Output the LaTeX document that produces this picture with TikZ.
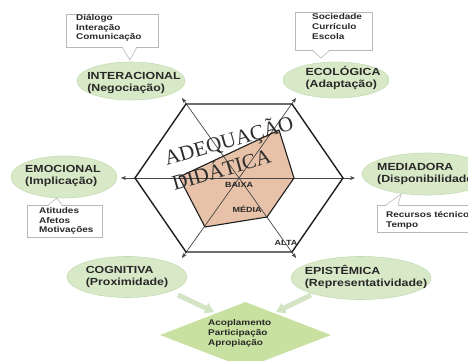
\documentclass[tikz,border=0pt]{standalone}
\usepackage{fontspec}
\setmainfont{Liberation Sans}
\newfontfamily\lab[FakeStretch=1.2]{Liberation Sans}
\newfontfamily\titlefont{Liberation Serif}
\usetikzlibrary{arrows.meta,shapes.geometric}
\definecolor{ellF}{RGB}{216,233,199}
\definecolor{ellB}{RGB}{196,220,180}
\definecolor{diaF}{RGB}{200,225,160}
\definecolor{pentF}{RGB}{232,194,168}
\definecolor{txt}{RGB}{40,40,40}
\definecolor{ttlC}{RGB}{45,45,45}
\definecolor{cB}{RGB}{185,185,185}
\definecolor{axC}{RGB}{70,70,70}
\definecolor{hexC}{RGB}{30,30,30}
\definecolor{barrow}{RGB}{210,228,196}
\begin{document}
\begin{tikzpicture}[x=1pt,y=-1pt,
  ell/.style={ellipse, draw=ellB, fill=ellF, line width=0.6pt, inner sep=0pt},
  etext/.style={font=\lab\bfseries\fontsize{10.3}{12}\selectfont, text=txt, align=left, inner sep=0pt},
  ctext/.style={font=\lab\bfseries\fontsize{8.3}{9.8}\selectfont, text=txt, align=left, inner sep=0pt, anchor=north west},
  cbox/.style={rectangle, draw=cB, fill=white, line width=0.6pt, inner sep=0pt},
  axisline/.style={draw=axC, line width=0.7pt, -{Stealth[length=5pt,width=4pt]}},
  hexline/.style={draw=hexC, line width=1.4pt, line join=miter},
  lvl/.style={font=\lab\bfseries\fontsize{7.5}{9}\selectfont, text=txt, inner sep=0pt},
  ttl/.style={font=\titlefont\fontsize{21}{24}\selectfont, text=ttlC, inner sep=0pt, rotate=16},
  blockarrow/.style={draw=barrow, line width=5pt, -{Triangle[width=11pt,length=9pt]}}
]
\useasboundingbox (0,0) rectangle (468,361);

% center and hexagon vertices
\coordinate (O) at (239,178);
\coordinate (vTL) at (186,104);
\coordinate (vTR) at (292,104);
\coordinate (vR) at (343,178);
\coordinate (vBR) at (292,252);
\coordinate (vBL) at (186,252);
\coordinate (vL) at (135,178);
% arrow ends
\coordinate (aTL) at (182,98);
\coordinate (aTR) at (296,98);
\coordinate (aR) at (355,178);
\coordinate (aBR) at (296,258);
\coordinate (aBL) at (182,258);
\coordinate (aL) at (121,178);
% pentagon
\coordinate (p1) at (179,177);
\coordinate (p2) at (279,130);
\coordinate (p3) at (294,178);
\coordinate (p4) at (267,217);
\coordinate (p5) at (205,227);

\fill[pentF] (p1) -- (p2) -- (p3) -- (p4) -- (p5) -- cycle;

% axes
\draw[axisline] (O) -- (aTL);
\draw[axisline] (O) -- (aTR);
\draw[axisline] (O) -- (aR);
\draw[axisline] (O) -- (aBR);
\draw[axisline] (O) -- (aBL);
\draw[axisline] (O) -- (aL);

\draw[hexline] (vTL) -- (vTR) -- (vR) -- (vBR) -- (vBL) -- (vL) -- cycle;
\draw[hexC, line width=1.1pt, line join=round] (p1) -- (p2) -- (p3) -- (p4) -- (p5) -- cycle;

\node[ttl] (t1) at (229,141) {ADEQUAÇÃO};
\node[ttl] (t2) at (221,168) {DIDÁTICA};

\node[lvl] (baixa) at (239,185) {BAIXA};
\node[lvl] (media) at (247,209) {MÉDIA};
\node[lvl] (alta) at (286,243) {ALTA};

% ellipses
\node[ell, minimum width=108pt, minimum height=38pt] (inter) at (131,81) {};
\node[etext] (interT) at (134,83) {INTERACIONAL\\(Negociação)};
\node[ell, minimum width=106pt, minimum height=36pt] (eco) at (336,80) {};
\node[etext] (ecoT) at (343,78) {ECOLÓGICA\\(Adaptação)};
\node[ell, minimum width=106pt, minimum height=42pt] (emo) at (64,177) {};
\node[etext] (emoT) at (63,176) {EMOCIONAL\\(Implicação)};
\node[ell, minimum width=130pt, minimum height=42pt] (med) at (427,174) {};
\node[etext, anchor=west] (medT) at (377,174) {MEDIADORA\\(Disponibilidade)};
\node[ell, minimum width=120pt, minimum height=41pt] (cog) at (127,277) {};
\node[etext] (cogT) at (127,277) {COGNITIVA\\(Proximidade)};
\node[ell, minimum width=140pt, minimum height=43pt] (epi) at (361,278) {};
\node[etext] (epiT) at (366,277) {EPISTÊMICA\\(Representatividade)};

% callouts
\node[cbox, minimum width=92pt, minimum height=33pt] (c1) at (112,30.5) {};
\fill[white] (122,46) -- (130,60) -- (137,46) -- cycle;
\draw[cB, line width=0.6pt] (122,47) -- (130,60) -- (137,47);
\node[ctext] (c1T) at (76,14) {Diálogo\\Interação\\Comunicação};

\node[cbox, minimum width=77pt, minimum height=38pt] (c2) at (333.5,31) {};
\fill[white] (312,49) -- (321,58) -- (330,49) -- cycle;
\draw[cB, line width=0.6pt] (312,50) -- (321,58) -- (330,50);
\node[ctext] (c2T) at (312,13.5) {Sociedade\\Currículo\\Escola};

\node[cbox, minimum width=75pt, minimum height=32pt] (c3) at (64.5,221) {};
\fill[white] (48,206) -- (57,198) -- (62,206) -- cycle;
\draw[cB, line width=0.6pt] (48,205) -- (57,198) -- (62,205);
\node[ctext] (c3T) at (39,207) {Atitudes\\Afetos\\Motivações};

\node[cbox, minimum width=108pt, minimum height=27pt] (c4) at (431,218.5) {};
\fill[white] (386,206) -- (401,194) -- (398,206) -- cycle;
\draw[cB, line width=0.6pt] (386,205) -- (401,194) -- (398,205);
\node[ctext] (c4T) at (386,211) {Recursos técnicos\\Tempo};

% diamond
\node[diamond, fill=diaF, minimum width=171pt, minimum height=66pt, inner sep=0pt] (dia) at (245.5,335) {};
\node[ctext, font=\lab\bfseries\fontsize{8.3}{10.3}\selectfont] (diaT) at (208,319) {Acoplamento\\Participação\\Apropiação};

% block arrows
\coordinate (bc1) at (178,295);
\coordinate (bc2) at (214,312);
\coordinate (be1) at (311,295);
\coordinate (be2) at (276,312);
\draw[blockarrow] (bc1) -- (bc2);
\draw[blockarrow] (be1) -- (be2);
\end{tikzpicture}
\end{document}
